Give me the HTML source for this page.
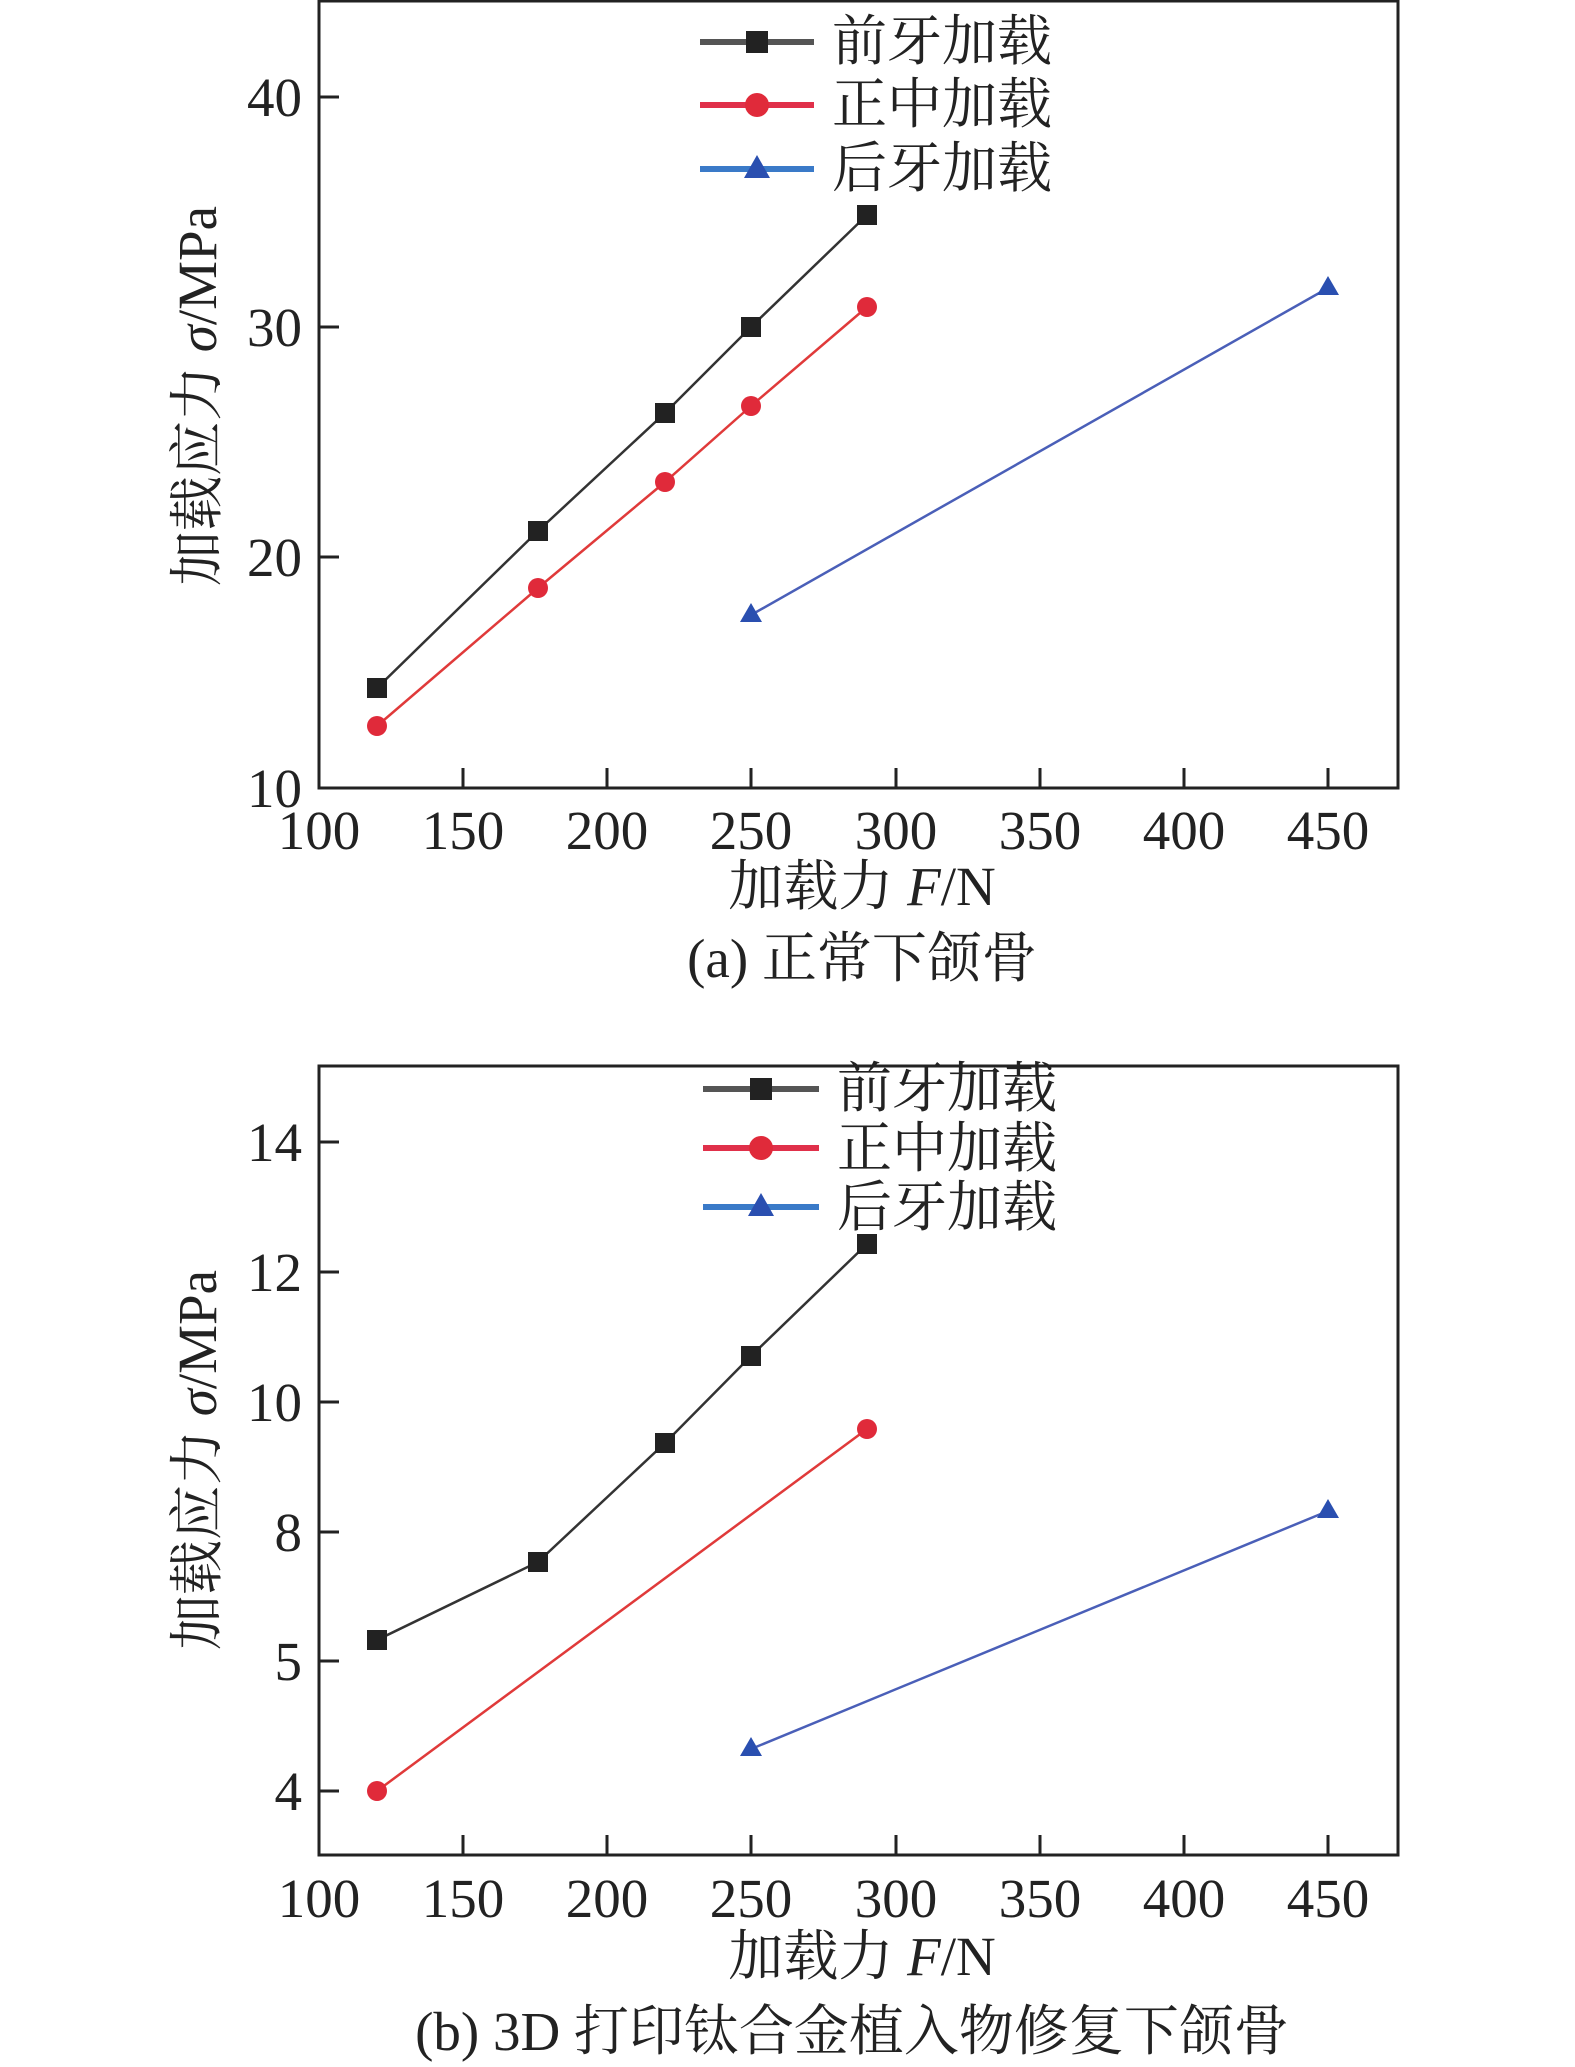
<!DOCTYPE html>
<html><head><meta charset="utf-8"><style>
body{margin:0;background:#fff}
svg{display:block}
text{font-family:"Liberation Serif","Noto Serif CJK SC",serif;fill:#222}
</style></head><body>
<svg width="1575" height="2067" viewBox="0 0 1575 2067" xmlns="http://www.w3.org/2000/svg">
<!-- Panel a -->
<g>
<rect x="319" y="1" width="1079" height="787" fill="none" stroke="#222" stroke-width="3"/>
<g stroke="#222" stroke-width="3">
<line x1="319" y1="97" x2="339" y2="97"/><line x1="319" y1="327" x2="339" y2="327"/><line x1="319" y1="557" x2="339" y2="557"/>
<line x1="463" y1="788" x2="463" y2="768"/><line x1="607" y1="788" x2="607" y2="768"/><line x1="751" y1="788" x2="751" y2="768"/><line x1="896" y1="788" x2="896" y2="768"/><line x1="1040" y1="788" x2="1040" y2="768"/><line x1="1184" y1="788" x2="1184" y2="768"/><line x1="1328" y1="788" x2="1328" y2="768"/>
</g>
<g font-size="55" text-anchor="end">
<text x="302" y="116">40</text><text x="302" y="346">30</text><text x="302" y="576">20</text><text x="302" y="807">10</text>
</g>
<g font-size="55" text-anchor="middle">
<text x="319" y="849">100</text><text x="463" y="849">150</text><text x="607" y="849">200</text><text x="751" y="849">250</text><text x="896" y="849">300</text><text x="1040" y="849">350</text><text x="1184" y="849">400</text><text x="1328" y="849">450</text>
</g>
<text x="862" y="905" font-size="55" text-anchor="middle">加载力 <tspan font-style="italic">F</tspan>/N</text>
<text x="862" y="977" font-size="55" text-anchor="middle">(a) 正常下颌骨</text>
<text transform="translate(216,396) rotate(-90)" font-size="55" text-anchor="middle">加载应力 <tspan font-style="italic">σ</tspan>/MPa</text>
<polyline points="377,688 538,531 665,413 751,327 867,215" fill="none" stroke="#333" stroke-width="2.5"/>
<polyline points="377,726 538,588 665,482 751,406 867,307" fill="none" stroke="#e03a3a" stroke-width="2.5"/>
<polyline points="751,615 1328,288" fill="none" stroke="#4a5fb8" stroke-width="2.5"/>
<g fill="#222"><rect x="367" y="678" width="20" height="20"/><rect x="528" y="521" width="20" height="20"/><rect x="655" y="403" width="20" height="20"/><rect x="741" y="317" width="20" height="20"/><rect x="857" y="205" width="20" height="20"/></g>
<g fill="#e02a3a"><circle cx="377" cy="726" r="10"/><circle cx="538" cy="588" r="10"/><circle cx="665" cy="482" r="10"/><circle cx="751" cy="406" r="10"/><circle cx="867" cy="307" r="10"/></g>
<g fill="#2a4fb0"><polygon points="751,603 762,622 740,622"/><polygon points="1328,276 1339,295 1317,295"/></g>
<line x1="700" y1="42" x2="814" y2="42" stroke="#555" stroke-width="6"/><rect x="746" y="31" width="22" height="22" fill="#222"/>
<line x1="700" y1="105" x2="814" y2="105" stroke="#e0304a" stroke-width="6"/><circle cx="757" cy="105" r="12" fill="#e02a3a"/>
<line x1="700" y1="169" x2="814" y2="169" stroke="#3a7ac8" stroke-width="6"/><polygon points="757,155 770,178 744,178" fill="#2a4fb0"/>
<g font-size="55"><text x="832" y="60">前牙加载</text><text x="832" y="123">正中加载</text><text x="832" y="187">后牙加载</text></g>
</g>
<!-- Panel b -->
<g>
<rect x="319" y="1066" width="1079" height="789" fill="none" stroke="#222" stroke-width="3"/>
<g stroke="#222" stroke-width="3">
<line x1="319" y1="1142" x2="339" y2="1142"/><line x1="319" y1="1272" x2="339" y2="1272"/><line x1="319" y1="1402" x2="339" y2="1402"/><line x1="319" y1="1532" x2="339" y2="1532"/><line x1="319" y1="1661" x2="339" y2="1661"/><line x1="319" y1="1791" x2="339" y2="1791"/>
<line x1="463" y1="1855" x2="463" y2="1835"/><line x1="607" y1="1855" x2="607" y2="1835"/><line x1="751" y1="1855" x2="751" y2="1835"/><line x1="896" y1="1855" x2="896" y2="1835"/><line x1="1040" y1="1855" x2="1040" y2="1835"/><line x1="1184" y1="1855" x2="1184" y2="1835"/><line x1="1328" y1="1855" x2="1328" y2="1835"/>
</g>
<g font-size="55" text-anchor="end">
<text x="302" y="1161">14</text><text x="302" y="1291">12</text><text x="302" y="1421">10</text><text x="302" y="1551">8</text><text x="302" y="1680">5</text><text x="302" y="1810">4</text>
</g>
<g font-size="55" text-anchor="middle">
<text x="319" y="1917">100</text><text x="463" y="1917">150</text><text x="607" y="1917">200</text><text x="751" y="1917">250</text><text x="896" y="1917">300</text><text x="1040" y="1917">350</text><text x="1184" y="1917">400</text><text x="1328" y="1917">450</text>
</g>
<text x="862" y="1975" font-size="55" text-anchor="middle">加载力 <tspan font-style="italic">F</tspan>/N</text>
<text x="852" y="2050" font-size="55" text-anchor="middle">(b) 3D 打印钛合金植入物修复下颌骨</text>
<text transform="translate(216,1460) rotate(-90)" font-size="55" text-anchor="middle">加载应力 <tspan font-style="italic">σ</tspan>/MPa</text>
<polyline points="377,1640 538,1562 665,1443 751,1356 867,1244" fill="none" stroke="#333" stroke-width="2.5"/>
<polyline points="377,1791 867,1429" fill="none" stroke="#e03a3a" stroke-width="2.5"/>
<polyline points="751,1749 1328,1511" fill="none" stroke="#4a5fb8" stroke-width="2.5"/>
<g fill="#222"><rect x="367" y="1630" width="20" height="20"/><rect x="528" y="1552" width="20" height="20"/><rect x="655" y="1433" width="20" height="20"/><rect x="741" y="1346" width="20" height="20"/><rect x="857" y="1234" width="20" height="20"/></g>
<g fill="#e02a3a"><circle cx="377" cy="1791" r="10"/><circle cx="867" cy="1429" r="10"/></g>
<g fill="#2a4fb0"><polygon points="751,1737 762,1756 740,1756"/><polygon points="1328,1499 1339,1518 1317,1518"/></g>
<line x1="703" y1="1089" x2="819" y2="1089" stroke="#555" stroke-width="6"/><rect x="750" y="1078" width="22" height="22" fill="#222"/>
<line x1="703" y1="1148" x2="819" y2="1148" stroke="#e0304a" stroke-width="6"/><circle cx="761" cy="1148" r="12" fill="#e02a3a"/>
<line x1="703" y1="1207" x2="819" y2="1207" stroke="#3a7ac8" stroke-width="6"/><polygon points="761,1193 774,1216 748,1216" fill="#2a4fb0"/>
<g font-size="55"><text x="837" y="1107">前牙加载</text><text x="837" y="1167">正中加载</text><text x="837" y="1226">后牙加载</text></g>
</g>
</svg>
</body></html>
